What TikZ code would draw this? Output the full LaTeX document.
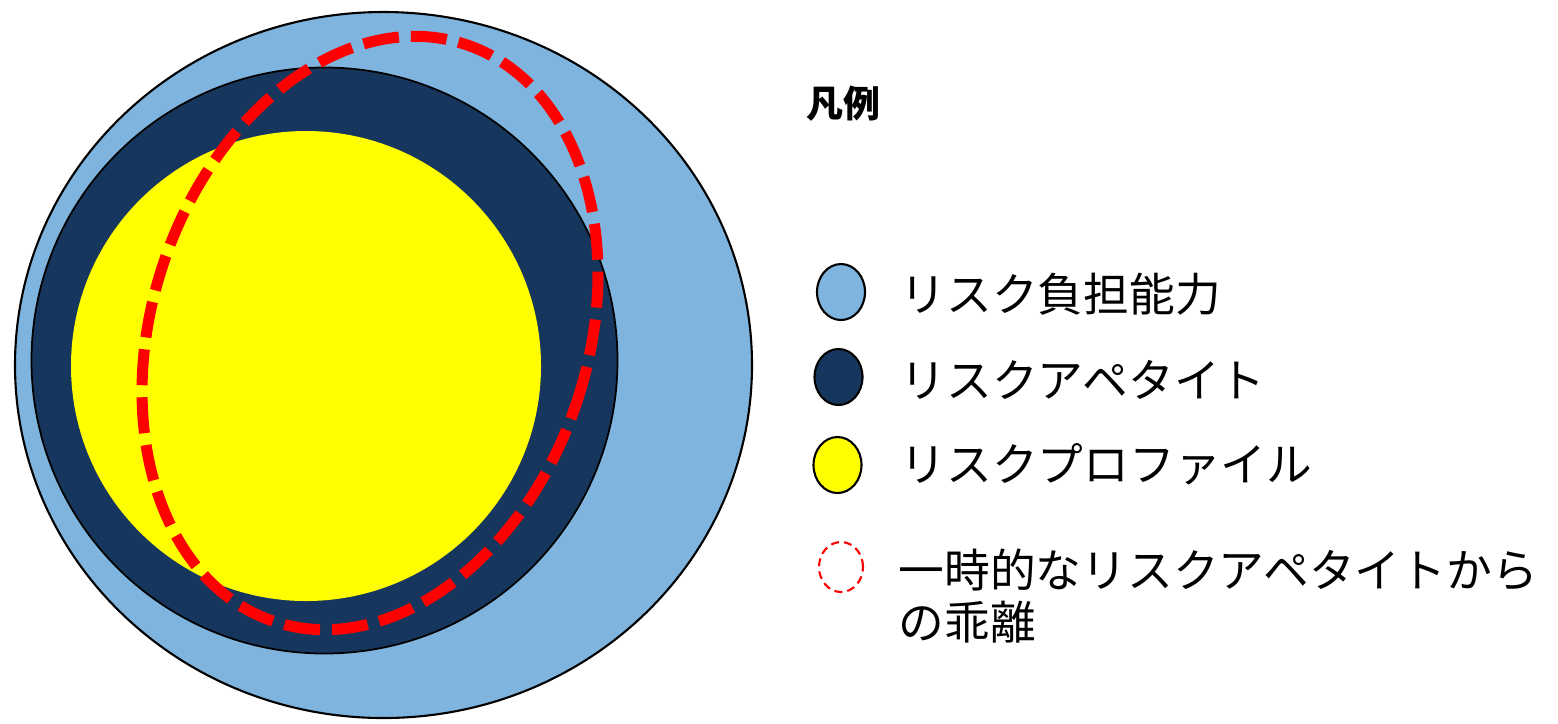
\documentclass[tikz,border=0pt]{standalone}
\usepackage{fontspec}
\newfontfamily\jp{Noto Sans CJK JP}
\definecolor{capblue}{RGB}{126,180,222}
\definecolor{appnavy}{RGB}{23,54,93}
\definecolor{profyellow}{RGB}{255,255,0}
\definecolor{devred}{RGB}{255,0,0}
\tikzset{
  capfill/.style={fill=capblue,draw=black,line width=0.6pt},
  appfill/.style={fill=appnavy,draw=black,line width=0.5pt},
  proffill/.style={fill=profyellow},
  devline/.style={draw=devred,line width=0.11cm,dash pattern=on 0.36cm off 0.12cm},
  legtext/.style={anchor=west,inner sep=0pt,font=\jp\fontsize{13pt}{15pt}\selectfont,text=black},
}
\begin{document}
\begin{tikzpicture}[x=0.01cm,y=0.01cm]
\useasboundingbox (0,0) rectangle (1558,-723);
% main diagram
\path[capfill] (383.5,-365) ellipse [x radius=368.5,y radius=353];
\path[appfill] (324.5,-360.5) circle [radius=293];
\path[proffill] (306,-366) circle [radius=235];
\draw[devline,shift={(370,-333)},rotate=-18.3] (0,0) ellipse [x radius=218,y radius=304];
% legend
\node[anchor=center,inner sep=0pt,font=\jp\bfseries\fontsize{10.5pt}{12pt}\selectfont] (legtitle) at (843,-104) {凡例};
\path[capfill] (841,-292) ellipse [x radius=24,y radius=28];
\path[fill=appnavy,draw=black,line width=0.6pt] (838.5,-377) ellipse [x radius=24,y radius=28];
\path[fill=profyellow,draw=black,line width=0.6pt] (837.5,-465) ellipse [x radius=24,y radius=28];
\draw[devred,line width=0.6pt,dash pattern=on 0.08cm off 0.05cm] (841,-567) ellipse [x radius=22,y radius=25];
\node[legtext] (lcap) at (900,-294) {リスク負担能力};
\node[legtext] (lapp) at (900,-380) {リスクアペタイト};
\node[legtext] (lprof) at (900,-464) {リスクプロファイル};
\node[legtext,align=left,font=\jp\fontsize{13pt}{14.8pt}\selectfont,anchor=north west] (ldev) at (898,-548) {一時的なリスクアペタイトから\\の乖離};
\end{tikzpicture}
\end{document}
